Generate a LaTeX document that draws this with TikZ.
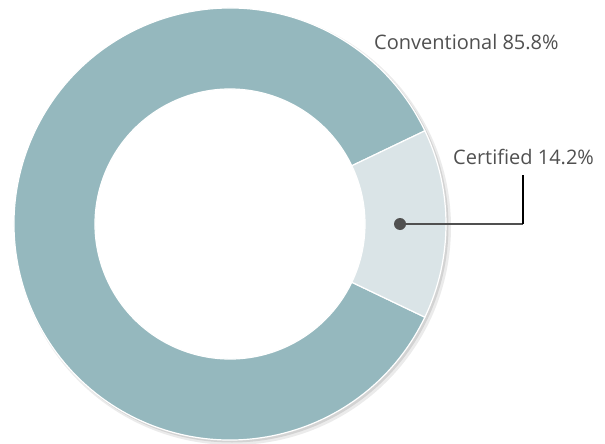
\documentclass[tikz,border=0pt]{standalone}
\usepackage{fontspec}
\setmainfont{Open Sans}
\usetikzlibrary{positioning}
\definecolor{convteal}{HTML}{95B8BE}
\definecolor{certgrey}{HTML}{DAE4E7}
\definecolor{labelgrey}{HTML}{505050}
\begin{document}
\begin{tikzpicture}[x=1pt, y=-1pt,
    slice/.style={draw=white, line width=1.2pt},
    pielabel/.style={font=\fontsize{20}{23}\selectfont, text=labelgrey, inner sep=0pt, anchor=west},
    leader/.style={draw=labelgrey, line width=1.4pt}]
  \useasboundingbox (0,0) rectangle (605,444);

  \coordinate (c) at (230,224);

  % soft shadow under the ring
  \fill[black, opacity=0.08, even odd rule] (233,227) circle[radius=218] (c) circle[radius=140];
  \fill[black, opacity=0.10, even odd rule] (232,226) circle[radius=216.5] (c) circle[radius=140];

  % conventional slice
  \fill[convteal, slice] (c) ++(25.56:216) arc[start angle=25.56, end angle=334.44, radius=216]
    -- ([shift={(334.44:135)}]c) arc[start angle=334.44, end angle=25.56, radius=135] -- cycle;

  % certified slice
  \fill[certgrey, slice] (c) ++(-25.56:216) arc[start angle=-25.56, end angle=25.56, radius=216]
    -- ([shift={(25.56:135)}]c) arc[start angle=25.56, end angle=-25.56, radius=135] -- cycle;

  % labels
  \node[pielabel] (conv) at (374,42) {Conventional 85.8\%};
  \node[pielabel] (cert) at (453,157) {Certified 14.2\%};

  \node[circle, fill=labelgrey, inner sep=0pt, minimum size=12pt] (dot) at (400,224) {};
  \coordinate (bend) at (523,224);
  \coordinate (tick) at (523,175);
  \draw[leader] (dot) -- (bend);
  \draw[black, line width=2pt] (bend) -- (tick);
\end{tikzpicture}
\end{document}
